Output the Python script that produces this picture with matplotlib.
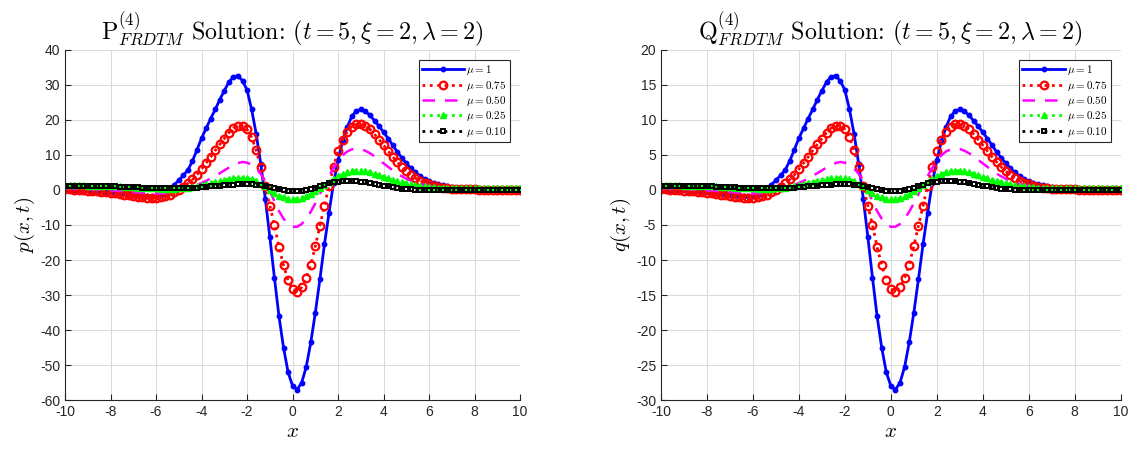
import numpy as np
import matplotlib
matplotlib.use("Agg")
import matplotlib.pyplot as plt

plt.rcParams['font.family'] = ['Liberation Sans', 'DejaVu Sans']
plt.rcParams['mathtext.fontset'] = 'cm'
plt.rcParams['axes.unicode_minus'] = False

####### Data (x = -10 .. 10, step 0.2) #######
x_start, x_stop, x_step = -10.0, 10.0, 0.2

# p(x,t), left panel
p_mu1 = [0.2, 0.2, 0.1, 0.1, 0.0, -0.1, -0.2, -0.3, -0.4, -0.5,
         -0.6, -0.7, -0.8, -1.0, -1.1, -1.3, -1.4, -1.6, -1.7, -1.8,
         -1.7, -1.4, -0.8, 0.2, 1.5, 2.8, 4.2, 5.7, 8.3, 11.5,
         14.8, 17.6, 20.4, 23.0, 25.8, 28.4, 30.8, 32.4, 32.6, 31.2,
         28.5, 23.0, 16.0, 7.5, -2.5, -13.5, -25.0, -36.0, -45.0, -52.0,
         -56.0, -57.0, -55.0, -50.5, -43.5, -35.0, -25.5, -15.5, -6.5, 2.0,
         8.5, 14.0, 18.0, 21.0, 22.6, 23.0, 22.5, 21.3, 19.8, 18.2,
         16.5, 14.7, 12.8, 10.9, 9.2, 7.6, 6.2, 5.0, 4.0, 3.2,
         2.5, 2.0, 1.6, 1.3, 1.0, 0.8, 0.7, 0.6, 0.5, 0.4,
         0.4, 0.3, 0.3, 0.3, 0.2, 0.2, 0.2, 0.2, 0.2, 0.1,
         0.1]
p_mu075 = [0.3, 0.2, 0.1, 0.0, -0.1, -0.2, -0.3, -0.4, -0.5, -0.7,
           -0.8, -0.9, -1.1, -1.3, -1.5, -1.7, -1.9, -2.1, -2.2, -2.3,
           -2.3, -2.1, -1.8, -1.3, -0.7, 0.0, 0.9, 1.9, 3.0, 4.3,
           6.0, 7.7, 9.4, 11.3, 13.0, 14.7, 16.4, 17.7, 18.3, 18.3,
           17.3, 15.0, 11.3, 6.5, 1.0, -4.5, -10.0, -16.3, -21.5, -25.8,
           -28.3, -29.0, -27.8, -25.0, -21.3, -16.0, -10.2, -4.5, 1.2, 6.7,
           11.2, 14.3, 16.6, 18.1, 18.8, 18.9, 18.3, 17.3, 15.9, 14.4,
           12.8, 11.1, 9.5, 8.0, 6.6, 5.4, 4.3, 3.4, 2.7, 2.1,
           1.6, 1.2, 0.9, 0.7, 0.5, 0.4, 0.3, 0.3, 0.2, 0.2,
           0.2, 0.1, 0.1, 0.1, 0.1, 0.1, 0.0, 0.0, 0.0, 0.0,
           0.0]
p_mu050 = [0.5, 0.5, 0.4, 0.4, 0.3, 0.3, 0.2, 0.1, 0.1, 0.0,
           -0.1, -0.2, -0.3, -0.4, -0.5, -0.6, -0.7, -0.8, -0.9, -1.0,
           -1.0, -1.0, -0.9, -0.8, -0.6, -0.3, 0.0, 0.4, 0.9, 1.4,
           2.0, 2.6, 3.3, 4.0, 4.8, 5.6, 6.4, 7.1, 7.7, 8.0,
           7.8, 7.2, 6.2, 4.6, 2.4, -0.3, -3.2, -6.0, -8.2, -9.7,
           -10.5, -10.5, -9.7, -8.2, -6.2, -3.8, -1.2, 1.5, 4.0, 6.3,
           8.3, 9.9, 11.0, 11.6, 11.8, 11.7, 11.2, 10.5, 9.6, 8.6,
           7.6, 6.6, 5.6, 4.7, 3.9, 3.2, 2.6, 2.1, 1.7, 1.4,
           1.1, 0.9, 0.7, 0.6, 0.5, 0.4, 0.4, 0.3, 0.3, 0.3,
           0.3, 0.3, 0.3, 0.3, 0.3, 0.3, 0.3, 0.3, 0.3, 0.3,
           0.3]
p_mu025 = [1.3, 1.3, 1.3, 1.3, 1.3, 1.2, 1.2, 1.2, 1.2, 1.1,
           1.1, 1.0, 1.0, 0.9, 0.9, 0.8, 0.7, 0.7, 0.6, 0.5,
           0.5, 0.4, 0.4, 0.4, 0.4, 0.5, 0.6, 0.7, 0.9, 1.1,
           1.3, 1.6, 1.9, 2.2, 2.5, 2.8, 3.1, 3.3, 3.4, 3.4,
           3.3, 3.0, 2.5, 1.8, 1.0, 0.1, -0.8, -1.6, -2.1, -2.5,
           -2.7, -2.6, -2.3, -1.8, -1.1, -0.3, 0.6, 1.5, 2.4, 3.2,
           4.0, 4.6, 5.1, 5.4, 5.5, 5.5, 5.3, 5.0, 4.6, 4.2,
           3.8, 3.3, 2.9, 2.5, 2.2, 1.9, 1.6, 1.4, 1.2, 1.0,
           0.9, 0.8, 0.7, 0.7, 0.6, 0.6, 0.6, 0.6, 0.5, 0.5,
           0.5, 0.5, 0.5, 0.5, 0.5, 0.5, 0.5, 0.5, 0.5, 0.5,
           0.5]
p_mu010 = [1.1, 1.1, 1.1, 1.1, 1.1, 1.1, 1.1, 1.0, 1.0, 1.0,
           1.0, 1.0, 0.9, 0.9, 0.9, 0.8, 0.8, 0.7, 0.7, 0.6,
           0.6, 0.5, 0.5, 0.5, 0.5, 0.5, 0.5, 0.6, 0.6, 0.7,
           0.8, 0.9, 1.0, 1.1, 1.2, 1.3, 1.4, 1.5, 1.6, 1.6,
           1.6, 1.6, 1.5, 1.4, 1.2, 0.9, 0.6, 0.3, 0.0, -0.2,
           -0.3, -0.3, -0.2, 0.0, 0.3, 0.7, 1.1, 1.5, 1.9, 2.2,
           2.4, 2.6, 2.6, 2.6, 2.5, 2.4, 2.2, 2.0, 1.7, 1.5,
           1.2, 1.0, 0.8, 0.6, 0.4, 0.3, 0.2, 0.1, 0.0, 0.0,
           -0.1, -0.1, -0.1, -0.1, -0.1, -0.1, -0.1, -0.1, -0.1, -0.1,
           -0.1, -0.1, -0.1, -0.1, -0.1, -0.1, -0.1, -0.1, -0.1, -0.1,
           -0.1]

# q(x,t), right panel
q_mu1 = [0.1, 0.1, 0.05, 0.05, 0.0, -0.05, -0.1, -0.15, -0.2, -0.25,
         -0.3, -0.35, -0.4, -0.5, -0.55, -0.65, -0.7, -0.8, -0.85, -0.9,
         -0.85, -0.7, -0.4, 0.1, 0.75, 1.4, 2.1, 2.85, 4.15, 5.75,
         7.4, 8.8, 10.2, 11.5, 12.9, 14.2, 15.4, 16.2, 16.3, 15.6,
         14.25, 11.5, 8.0, 3.75, -1.25, -6.75, -12.5, -18.0, -22.5, -26.0,
         -28.0, -28.5, -27.5, -25.25, -21.75, -17.5, -12.75, -7.75, -3.25, 1.0,
         4.25, 7.0, 9.0, 10.5, 11.3, 11.5, 11.25, 10.65, 9.9, 9.1,
         8.25, 7.35, 6.4, 5.45, 4.6, 3.8, 3.1, 2.5, 2.0, 1.6,
         1.25, 1.0, 0.8, 0.65, 0.5, 0.4, 0.35, 0.3, 0.25, 0.2,
         0.2, 0.15, 0.15, 0.15, 0.1, 0.1, 0.1, 0.1, 0.1, 0.05,
         0.05]
q_mu075 = [0.15, 0.1, 0.05, 0.0, -0.05, -0.1, -0.15, -0.2, -0.25, -0.35,
           -0.4, -0.45, -0.55, -0.65, -0.75, -0.85, -0.95, -1.05, -1.1, -1.15,
           -1.15, -1.05, -0.9, -0.65, -0.35, 0.0, 0.45, 0.95, 1.5, 2.15,
           3.0, 3.85, 4.7, 5.65, 6.5, 7.35, 8.2, 8.85, 9.15, 9.15,
           8.65, 7.5, 5.65, 3.25, 0.5, -2.25, -5.0, -8.15, -10.75, -12.9,
           -14.15, -14.5, -13.9, -12.5, -10.65, -8.0, -5.1, -2.25, 0.6, 3.35,
           5.6, 7.15, 8.3, 9.05, 9.4, 9.45, 9.15, 8.65, 7.95, 7.2,
           6.4, 5.55, 4.75, 4.0, 3.3, 2.7, 2.15, 1.7, 1.35, 1.05,
           0.8, 0.6, 0.45, 0.35, 0.25, 0.2, 0.15, 0.15, 0.1, 0.1,
           0.1, 0.05, 0.05, 0.05, 0.05, 0.05, 0.0, 0.0, 0.0, 0.0,
           0.0]
q_mu050 = [0.25, 0.25, 0.2, 0.2, 0.15, 0.15, 0.1, 0.05, 0.05, 0.0,
           -0.05, -0.1, -0.15, -0.2, -0.25, -0.3, -0.35, -0.4, -0.45, -0.5,
           -0.5, -0.5, -0.45, -0.4, -0.3, -0.15, 0.0, 0.2, 0.45, 0.7,
           1.0, 1.3, 1.65, 2.0, 2.4, 2.8, 3.2, 3.55, 3.85, 4.0,
           3.9, 3.6, 3.1, 2.3, 1.2, -0.15, -1.6, -3.0, -4.1, -4.85,
           -5.25, -5.25, -4.85, -4.1, -3.1, -1.9, -0.6, 0.75, 2.0, 3.15,
           4.15, 4.95, 5.5, 5.8, 5.9, 5.85, 5.6, 5.25, 4.8, 4.3,
           3.8, 3.3, 2.8, 2.35, 1.95, 1.6, 1.3, 1.05, 0.85, 0.7,
           0.55, 0.45, 0.35, 0.3, 0.25, 0.2, 0.2, 0.15, 0.15, 0.15,
           0.15, 0.15, 0.15, 0.15, 0.15, 0.15, 0.15, 0.15, 0.15, 0.15,
           0.15]
q_mu025 = [0.65, 0.65, 0.65, 0.65, 0.65, 0.6, 0.6, 0.6, 0.6, 0.55,
           0.55, 0.5, 0.5, 0.45, 0.45, 0.4, 0.35, 0.35, 0.3, 0.25,
           0.25, 0.2, 0.2, 0.2, 0.2, 0.25, 0.3, 0.35, 0.45, 0.55,
           0.65, 0.8, 0.95, 1.1, 1.25, 1.4, 1.55, 1.65, 1.7, 1.7,
           1.65, 1.5, 1.25, 0.9, 0.5, 0.05, -0.4, -0.8, -1.05, -1.25,
           -1.35, -1.3, -1.15, -0.9, -0.55, -0.15, 0.3, 0.75, 1.2, 1.6,
           2.0, 2.3, 2.55, 2.7, 2.75, 2.75, 2.65, 2.5, 2.3, 2.1,
           1.9, 1.65, 1.45, 1.25, 1.1, 0.95, 0.8, 0.7, 0.6, 0.5,
           0.45, 0.4, 0.35, 0.35, 0.3, 0.3, 0.3, 0.3, 0.25, 0.25,
           0.25, 0.25, 0.25, 0.25, 0.25, 0.25, 0.25, 0.25, 0.25, 0.25,
           0.25]
q_mu010 = [0.55, 0.55, 0.55, 0.55, 0.55, 0.55, 0.55, 0.5, 0.5, 0.5,
           0.5, 0.5, 0.45, 0.45, 0.45, 0.4, 0.4, 0.35, 0.35, 0.3,
           0.3, 0.25, 0.25, 0.25, 0.25, 0.25, 0.25, 0.3, 0.3, 0.35,
           0.4, 0.45, 0.5, 0.55, 0.6, 0.65, 0.7, 0.75, 0.8, 0.8,
           0.8, 0.8, 0.75, 0.7, 0.6, 0.45, 0.3, 0.15, 0.0, -0.1,
           -0.15, -0.15, -0.1, 0.0, 0.15, 0.35, 0.55, 0.75, 0.95, 1.1,
           1.2, 1.3, 1.3, 1.3, 1.25, 1.2, 1.1, 1.0, 0.85, 0.75,
           0.6, 0.5, 0.4, 0.3, 0.2, 0.15, 0.1, 0.05, 0.0, 0.0,
           -0.05, -0.05, -0.05, -0.05, -0.05, -0.05, -0.05, -0.05, -0.05, -0.05,
           -0.05, -0.05, -0.05, -0.05, -0.05, -0.05, -0.05, -0.05, -0.05, -0.05,
           -0.05]

mu_labels = [r'$\mu = 1$', r'$\mu = 0.75$', r'$\mu = 0.50$',
             r'$\mu = 0.25$', r'$\mu = 0.10$']
x_ticks = [-10, -8, -6, -4, -2, 0, 2, 4, 6, 8, 10]
p_ticks = [-60, -50, -40, -30, -20, -10, 0, 10, 20, 30, 40]
q_ticks = [-30, -25, -20, -15, -10, -5, 0, 5, 10, 15, 20]

# plain text part is set in cmr10 so it matches the math font
p_title = r'P$^{(4)}_{FRDTM}$ Solution: $(t=5,\xi=2,\lambda=2)$'
q_title = r'Q$^{(4)}_{FRDTM}$ Solution: $(t=5,\xi=2,\lambda=2)$'

# MATLAB-like line styles
STYLES = [
    dict(color=(0, 0, 1), ls='-', lw=2.0, marker='o', ms=3.2, mfc=(0, 0, 1), mec=(0, 0, 1)),
    dict(color=(1, 0, 0), ls=':', lw=2.0, marker='o', ms=5.5, mfc='none', mec=(1, 0, 0), mew=1.6),
    dict(color=(1, 0, 1), ls='--', lw=1.8, dashes=(5, 4)),
    dict(color=(0, 1, 0), ls=':', lw=2.0, marker='^', ms=5, mfc=(0, 1, 0), mec=(0, 1, 0)),
    dict(color=(0, 0, 0), ls=':', lw=2.0, marker='s', ms=3.5, mfc='none', mec=(0, 0, 0), mew=1.4),
]


def draw_panel(ax, series, ticks, title, ylabel):
    x = np.arange(len(series[0])) * x_step + x_start
    for y, lab, st in zip(series, mu_labels, STYLES):
        ax.plot(x, y, label=lab, **st)
    ax.set_xlim(x_start, x_stop)
    ax.set_ylim(ticks[0], ticks[-1])
    ax.set_xticks(x_ticks)
    ax.set_yticks(ticks)
    ax.grid(True, color='#d9d9d9', lw=0.7)
    ax.set_axisbelow(True)
    for s in ['top', 'right']:
        ax.spines[s].set_visible(False)
    for s in ['left', 'bottom']:
        ax.spines[s].set_color('#262626')
        ax.spines[s].set_linewidth(0.8)
    ax.tick_params(direction='in', length=4, labelsize=10, colors='#262626')
    ax.set_title(title, fontsize=17.3, pad=7, family=['cmr10', 'DejaVu Serif'])
    ax.set_xlabel(r'$x$', fontsize=15, labelpad=2)
    ax.set_ylabel(ylabel, fontsize=15, labelpad=2)
    leg = ax.legend(loc='upper right', fontsize=8, fancybox=False, framealpha=1,
                    edgecolor='#262626', handlelength=3.8, handletextpad=0.2,
                    borderpad=0.3, labelspacing=0.12, borderaxespad=0.9)
    leg.get_frame().set_linewidth(0.8)


fig = plt.figure(figsize=(11.35, 4.5), dpi=100)
ax1 = fig.add_axes([0.0573, 0.111, 0.401, 0.778])
ax2 = fig.add_axes([0.5824, 0.111, 0.405, 0.778])

draw_panel(ax1, [p_mu1, p_mu075, p_mu050, p_mu025, p_mu010], p_ticks, p_title, r'$p(x,t)$')
draw_panel(ax2, [q_mu1, q_mu075, q_mu050, q_mu025, q_mu010], q_ticks, q_title, r'$q(x,t)$')

fig.savefig('out.png', dpi=100)
